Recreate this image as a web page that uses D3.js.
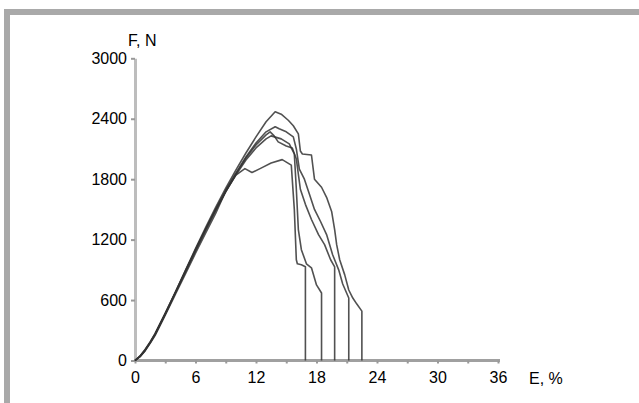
<!DOCTYPE html>
<html><head><meta charset="utf-8">
<script src="https://cdn.jsdelivr.net/npm/d3@7"></script>
<style>
body{margin:0;background:#fff;}
svg{display:block;font-family:Arial,"Liberation Sans",sans-serif;}
</style></head><body>
<svg id="c" width="639" height="403"></svg>
<script>
// Data: elongation E (%) and force F (N) for five specimens
const curveA_E = [0,0.5,1,1.5,2,3,4,5,6,7,8,9,10,11,12,13,13.9,14.5,15.2,15.7,16.2,16.4,16.6,17.5,17.8,18.5,19.0,19.5,19.8,20.0,20.3,20.8,21.2,21.6,22.0,22.5,22.5];
const curveA_F = [0,45,110,185,270,470,680,895,1110,1320,1520,1710,1890,2060,2220,2370,2470,2445,2385,2330,2250,2080,2050,2040,1800,1720,1620,1480,1300,1150,1000,850,700,620,560,490,0];

const curveB_E = [0,0.5,1,1.5,2,3,4,5,6,7,8,9,10,11,12,13,13.9,14.3,15.0,15.7,16.0,16.3,16.8,17.3,17.8,18.4,19.0,19.6,20.2,20.6,21.2,21.2];
const curveB_F = [0,42,105,180,265,465,675,890,1100,1305,1500,1690,1860,2020,2160,2270,2320,2300,2270,2220,2100,1900,1800,1650,1500,1380,1250,1050,900,760,620,0];

const curveC_E = [0,0.5,1,1.5,2,3,4,5,6,7,8,9,10,11,12,13,13.4,13.8,14.2,15.0,15.6,16.0,16.4,16.9,17.5,18.2,18.8,19.4,19.8,19.8];
const curveC_F = [0,40,100,175,260,460,670,880,1090,1295,1490,1675,1850,2010,2140,2240,2270,2230,2170,2130,2110,2000,1700,1550,1400,1250,1150,1000,930,0];

const curveD_E = [0,0.5,1,1.5,2,3,4,5,6,7,8,9,10,10.9,11.6,12.5,13.5,14.6,15.5,15.8,16.0,16.1,16.5,16.9,16.9];
const curveD_F = [0,38,95,170,250,450,655,860,1065,1265,1460,1680,1840,1905,1866,1910,1960,1994,1940,1500,1000,960,950,930,0];

const curveE_E = [0,0.5,1,1.5,2,3,4,5,6,7,8,9,10,11,12,13,13.5,14.5,15.3,15.8,16.0,16.2,16.5,17.0,17.5,18.0,18.5,18.5];
const curveE_F = [0,41,102,178,262,462,672,885,1095,1300,1495,1680,1840,1990,2110,2200,2230,2200,2150,2050,1700,1300,1100,960,920,750,670,0];

const series = [
  {E: curveA_E, F: curveA_F},
  {E: curveB_E, F: curveB_F},
  {E: curveC_E, F: curveC_F},
  {E: curveD_E, F: curveD_F},
  {E: curveE_E, F: curveE_F}
];

const yTicks = [0,600,1200,1800,2400,3000];
const xTicks = [0,3,6,9,12,15,18,21,24,27,30,33,36];
const xLabels = [0,6,12,18,24,30,36];

const svg = d3.select("#c");

// frame (top and left bars)
svg.append("rect").attr("x",4).attr("y",9).attr("width",635).attr("height",6).attr("fill","#a9a9a9");
svg.append("rect").attr("x",4).attr("y",9).attr("width",6).attr("height",394).attr("fill","#a9a9a9");

const x = d3.scaleLinear().domain([0,36]).range([135,498]);
const y = d3.scaleLinear().domain([0,3000]).range([360.5,58.3]);

const FONT = "Arial, 'Liberation Sans', sans-serif";

// y axis
const ya = svg.append("g").attr("transform","translate(135,0)")
  .call(d3.axisLeft(y).tickValues(yTicks).tickSize(4).tickPadding(4).tickSizeOuter(0).tickFormat(d3.format("d")));
ya.select(".domain").attr("stroke","#bdbdbd").attr("stroke-width",3);
ya.selectAll(".tick line").attr("stroke","#999").attr("stroke-width",2);
ya.selectAll("text").attr("font-size",16).attr("fill","#000").attr("font-family",FONT);

// x axis
const xa = svg.append("g").attr("transform","translate(0,360.5)")
  .call(d3.axisBottom(x).tickValues(xTicks).tickSize(3).tickPadding(8).tickSizeOuter(0)
    .tickFormat(d => xLabels.includes(d) ? d : ""));
xa.select(".domain").attr("stroke","#a0a0a0").attr("stroke-width",3).attr("d","M135,0H500");
xa.selectAll(".tick line").attr("stroke","#999").attr("stroke-width",2);
xa.selectAll("text").attr("font-size",16).attr("fill","#000").attr("font-family",FONT);

// axis titles
svg.append("text").attr("x",128).attr("y",46).attr("font-size",16).attr("font-family",FONT).text("F, N");
svg.append("text").attr("x",529).attr("y",384).attr("font-size",16).attr("font-family",FONT).text("E, %");

// curves
const line = d3.line().x(d => x(d[0])).y(d => y(d[1]));
series.forEach(s => {
  const pts = s.E.map((e,i) => [e, s.F[i]]);
  svg.append("path").datum(pts).attr("d",line)
    .attr("fill","none").attr("stroke","#333").attr("stroke-width",1.6)
    .attr("stroke-linejoin","round").attr("opacity",0.85);
});
</script>
</body></html>
